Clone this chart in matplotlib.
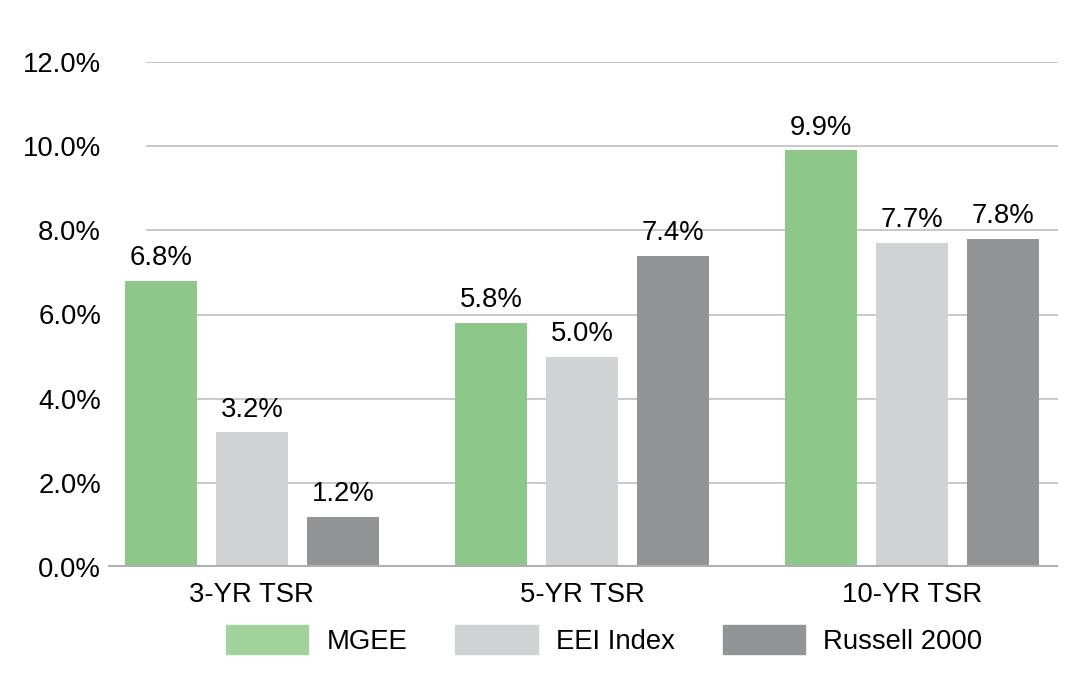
import matplotlib
matplotlib.use("Agg")
import matplotlib.pyplot as plt
import numpy as np

periods = ["3-YR TSR", "5-YR TSR", "10-YR TSR"]
series = ["MGEE", "EEI Index", "Russell 2000"]
mgee = [6.8, 5.8, 9.9]
eei = [3.2, 5.0, 7.7]
russell = [1.2, 7.4, 7.8]
yticks = [0, 2, 4, 6, 8, 10, 12]

bar_colors = ["#8ec78a", "#d1d2d4", "#939496"]
legend_colors = ["#a3d39c", "#d1d2d4", "#939496"]

plt.rcParams["font.family"] = ["Liberation Sans", "DejaVu Sans"]
fs = 19.8

fig = plt.figure(figsize=(10.77, 6.86), dpi=100)
ax = fig.add_axes([108 / 1077, (686 - 567) / 686, (1058 - 108) / 1077, (567 - 62) / 686])

x = np.arange(len(periods))
step = 0.276
width = 0.218
for i, vals in enumerate([mgee, eei, russell]):
    pos = x + (i - 1) * step
    ax.bar(pos, vals, width, color=bar_colors[i], zorder=2)
    for p, v in zip(pos, vals):
        ax.annotate("%.1f%%" % v, (p, v), xytext=(0, 7), textcoords="offset points",
                    ha="center", va="bottom", fontsize=fs)

ax.set_xlim(-0.436, 2.442)
ax.set_ylim(0, 12)
for t in yticks[1:]:
    ax.axhline(t, xmin=0.041, xmax=1, color="#c4c4c4", lw=1.3, zorder=1)
ax.axhline(0, color="#b0b0b0", lw=3, zorder=3)

ax.set_yticks(yticks)
ax.set_yticklabels(["%.1f%%" % t for t in yticks])
ax.set_xticks(x)
ax.set_xticklabels(periods)
ax.tick_params(axis="both", length=0, labelsize=fs)
ax.tick_params(axis="x", pad=11)
ax.tick_params(axis="y", pad=5)
for s in ax.spines.values():
    s.set_visible(False)

handles = [plt.Rectangle((0, 0), 1, 1, color=c) for c in legend_colors]
fig.legend(handles, series, loc="center", bbox_to_anchor=(604 / 1077, 1 - 640 / 686),
           ncol=3, frameon=False, fontsize=fs, handlelength=3.0, handleheight=1.2,
           handletextpad=0.65, columnspacing=1.75)

fig.savefig("out.png", dpi=100)
